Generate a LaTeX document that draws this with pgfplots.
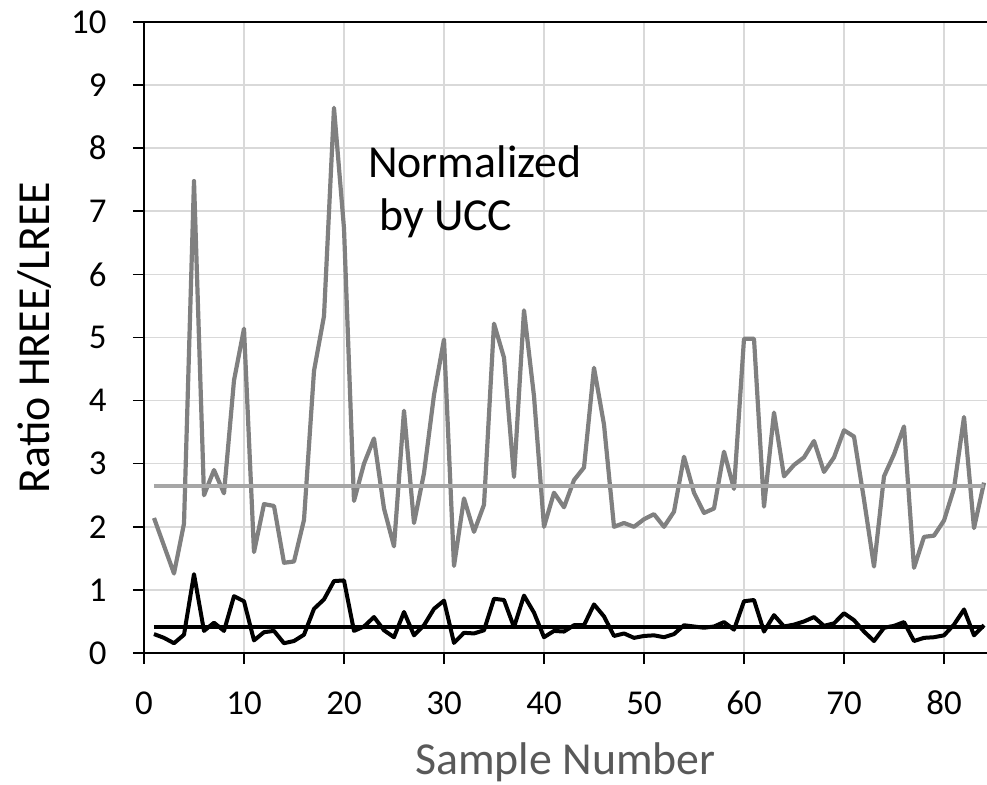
\documentclass[border=0pt]{standalone}
\usepackage{pgfplots}
\pgfplotsset{compat=1.18}
\usepackage{pgfplotstable}
\usepackage{fontspec}
\setmainfont{Carlito}
\definecolor{sergrey}{HTML}{808080}
\definecolor{meangrey}{HTML}{A6A6A6}
\definecolor{gridgrey}{HTML}{D9D9D9}
\definecolor{titlegrey}{HTML}{595959}
\pgfplotstableread{
x y
1 2.14
2 1.70
3 1.26
4 2.05
5 7.48
6 2.50
7 2.90
8 2.53
9 4.32
10 5.14
11 1.60
12 2.36
13 2.33
14 1.43
15 1.45
16 2.11
17 4.47
18 5.34
19 8.64
20 6.73
21 2.41
22 3.00
23 3.40
24 2.29
25 1.69
26 3.84
27 2.06
28 2.85
29 4.09
30 4.97
31 1.38
32 2.45
33 1.92
34 2.35
35 5.22
36 4.68
37 2.79
38 5.43
39 4.07
40 2.00
41 2.54
42 2.31
43 2.74
44 2.94
45 4.52
46 3.62
47 2.00
48 2.06
49 2.00
50 2.12
51 2.20
52 2.00
53 2.24
54 3.11
55 2.54
56 2.22
57 2.29
58 3.19
59 2.60
60 4.98
61 4.98
62 2.32
63 3.81
64 2.80
65 2.98
66 3.10
67 3.36
68 2.87
69 3.10
70 3.53
71 3.43
72 2.43
73 1.37
74 2.80
75 3.15
76 3.59
77 1.35
78 1.84
79 1.86
80 2.10
81 2.61
82 3.74
83 1.98
84 2.70
}\greydata
\pgfplotstableread{
x y
1 0.30
2 0.24
3 0.155
4 0.29
5 1.25
6 0.35
7 0.48
8 0.35
9 0.90
10 0.82
11 0.20
12 0.33
13 0.35
14 0.155
15 0.19
16 0.29
17 0.70
18 0.85
19 1.14
20 1.15
21 0.35
22 0.42
23 0.57
24 0.36
25 0.25
26 0.65
27 0.28
28 0.44
29 0.70
30 0.83
31 0.16
32 0.32
33 0.31
34 0.36
35 0.86
36 0.84
37 0.41
38 0.91
39 0.64
40 0.25
41 0.35
42 0.34
43 0.44
44 0.44
45 0.77
46 0.58
47 0.27
48 0.31
49 0.24
50 0.27
51 0.28
52 0.25
53 0.30
54 0.44
55 0.42
56 0.40
57 0.42
58 0.49
59 0.37
60 0.82
61 0.84
62 0.34
63 0.60
64 0.42
65 0.45
66 0.50
67 0.57
68 0.43
69 0.47
70 0.63
71 0.52
72 0.34
73 0.19
74 0.40
75 0.43
76 0.49
77 0.19
78 0.24
79 0.25
80 0.28
81 0.45
82 0.69
83 0.28
84 0.44
}\blackdata
\begin{document}
\begin{tikzpicture}
\useasboundingbox (-144bp,-132bp) rectangle (843bp,653bp);
\begin{axis}[
  scale only axis,
  width=843bp, height=631bp,
  xmin=0, xmax=84.3, ymin=0, ymax=10,
  xtick={0,10,...,80}, ytick={0,1,...,10},
  axis line style={draw=none},
  tick pos=left,
  tick align=outside,
  major tick length=11bp,
  every tick/.style={black, line width=1.6bp},
  grid=major,
  grid style={gridgrey, line width=1.6bp},
  /pgf/number format/assume math mode=true,
  xticklabel style={font=\fontsize{35}{40}\selectfont, text height=24bp, text depth=0bp, yshift=-23bp},
  yticklabel style={font=\fontsize{35}{40}\selectfont, xshift=-23bp},
  xlabel={Sample Number},
  ylabel={Ratio HREE/LREE},
  every axis x label/.style={at={(axis description cs:0.5,-0.1933)}, anchor=base, font=\fontsize{46}{54}\selectfont, text=titlegrey},
  every axis y label/.style={at={(axis description cs:-0.1293,0.5)}, anchor=center, rotate=90, font=\fontsize{46}{54}\selectfont, text=black},
  clip=false,
]
\addplot[sergrey, line width=4.2bp, line join=round] table[x=x,y=y] {\greydata};
\addplot[black, line width=4bp, line join=round] table[x=x,y=y] {\blackdata};
\addplot[meangrey, line width=4bp] coordinates {(1,2.64) (84,2.64)};
\addplot[black, line width=3.6bp] coordinates {(1,0.41) (84,0.41)};
\draw[black, line width=2bp] (axis cs:84.3,0) -- (axis cs:0,0) -- (axis cs:0,10) -- (axis cs:84.3,10);
\node[anchor=base west, font=\fontsize{46}{54}\selectfont, inner sep=0pt] at (axis cs:22.4,7.53) {Normalized};
\node[anchor=base west, font=\fontsize{46}{54}\selectfont, inner sep=0pt] at (axis cs:23.5,6.70) {by UCC};
\end{axis}
\end{tikzpicture}
\end{document}
